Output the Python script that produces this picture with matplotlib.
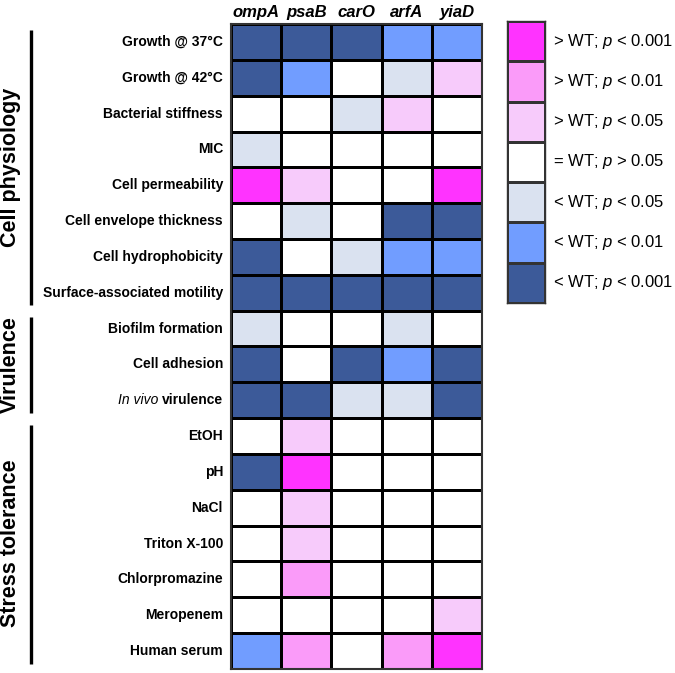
import numpy as np
import matplotlib
matplotlib.use("Agg")
import matplotlib.pyplot as plt
from matplotlib.colors import ListedColormap, BoundaryNorm

plt.rcParams['font.family'] = ['Liberation Sans', 'DejaVu Sans']
plt.rcParams['mathtext.fontset'] = 'custom'
plt.rcParams['mathtext.rm'] = 'Liberation Sans'
plt.rcParams['mathtext.it'] = 'Liberation Sans:italic'

# mutants (columns)
genes = ["ompA", "psaB", "carO", "arfA", "yiaD"]

# phenotypes (rows)
phenotypes = ["Growth @ 37°C", "Growth @ 42°C", "Bacterial stiffness", "MIC",
              "Cell permeability", "Cell envelope thickness", "Cell hydrophobicity",
              "Surface-associated motility", "Biofilm formation", "Cell adhesion",
              "virulence", "EtOH", "pH", "NaCl", "Triton X-100", "Chlorpromazine",
              "Meropenem", "Human serum"]

# 3 = > WT p<0.001 ... 0 = = WT ... -3 = < WT p<0.001
levels = [
    [-3, -3, -3, -2, -2],
    [-3, -2, 0, -1, 1],
    [0, 0, -1, 1, 0],
    [-1, 0, 0, 0, 0],
    [3, 1, 0, 0, 3],
    [0, -1, 0, -3, -3],
    [-3, 0, -1, -2, -2],
    [-3, -3, -3, -3, -3],
    [-1, 0, 0, -1, 0],
    [-3, 0, -3, -2, -3],
    [-3, -3, -1, -1, -3],
    [0, 1, 0, 0, 0],
    [-3, 3, 0, 0, 0],
    [0, 1, 0, 0, 0],
    [0, 1, 0, 0, 0],
    [0, 2, 0, 0, 0],
    [0, 0, 0, 0, 1],
    [-2, 2, 0, 2, 3],
]

groups = ["Cell physiology", "Virulence", "Stress tolerance"]
group_rows = [(0, 8), (8, 11), (11, 18)]

legend_levels = [3, 2, 1, 0, -1, -2, -3]
legend_labels = [r"> WT; $p$ < 0.001", r"> WT; $p$ < 0.01", r"> WT; $p$ < 0.05",
                 r"= WT; $p$ > 0.05", r"< WT; $p$ < 0.05", r"< WT; $p$ < 0.01",
                 r"< WT; $p$ < 0.001"]

colors = ["#3c5a99", "#719dff", "#dae2f0", "#ffffff", "#f7cbfb", "#fa9bf9", "#ff33ff"]
cmap = ListedColormap(colors)
norm = BoundaryNorm(np.arange(-3.5, 4.5, 1), cmap.N)

fig = plt.figure(figsize=(6.75, 6.73), dpi=100)
W, H = 675, 673

# heatmap
ax = fig.add_axes([231 / W, 1 - 669 / H, 251 / W, 645 / H])
data = np.array(levels)
ax.pcolormesh(data, cmap=cmap, norm=norm, edgecolors="black", linewidth=0.8)
ax.set_xlim(0, len(genes))
ax.set_ylim(len(phenotypes), 0)
ax.set_yticks([])
ax.xaxis.tick_top()
ax.set_xticks(np.arange(len(genes)) + 0.5)
ax.set_xticklabels(genes, fontsize=12, fontweight="bold", style="italic")
ax.tick_params(axis="x", length=0, pad=3)
for s in ax.spines.values():
    s.set_linewidth(1.5)
    s.set_color("#333333")

for i, name in enumerate(phenotypes):
    t = ax.text(-0.16, i + 0.5, name, ha="right", va="center",
                fontsize=10, fontweight="bold")
    if name == "virulence":
        ax.annotate("In vivo ", xy=(0, 0.5), xycoords=t, ha="right", va="center",
                    fontsize=10, style="italic")

# group bars and labels
for g, (r0, r1) in zip(groups, group_rows):
    ax.plot([-3.98, -3.98], [r0 + 0.18, r1 - 0.15], color="black", lw=2.4,
            clip_on=False, solid_capstyle="butt")
    ax.text(-4.4, (r0 + r1) / 2, g, rotation=90, ha="center", va="center",
            fontsize=15.5, fontweight="bold")

# legend
lax = fig.add_axes([507 / W, 1 - 303 / H, 38 / W, 282 / H])
lax.pcolormesh(np.array(legend_levels).reshape(-1, 1), cmap=cmap, norm=norm,
               edgecolors="#333333", linewidth=0.8)
lax.set_xlim(0, 1)
lax.set_ylim(len(legend_levels), 0)
lax.set_xticks([])
lax.set_yticks([])
for s in lax.spines.values():
    s.set_linewidth(1.0)
    s.set_color("#333333")
for i, lab in enumerate(legend_labels):
    lax.text(1 + 8 / 38, i + 0.5, lab, ha="left", va="center", fontsize=12)

fig.savefig("out.png", dpi=100)
